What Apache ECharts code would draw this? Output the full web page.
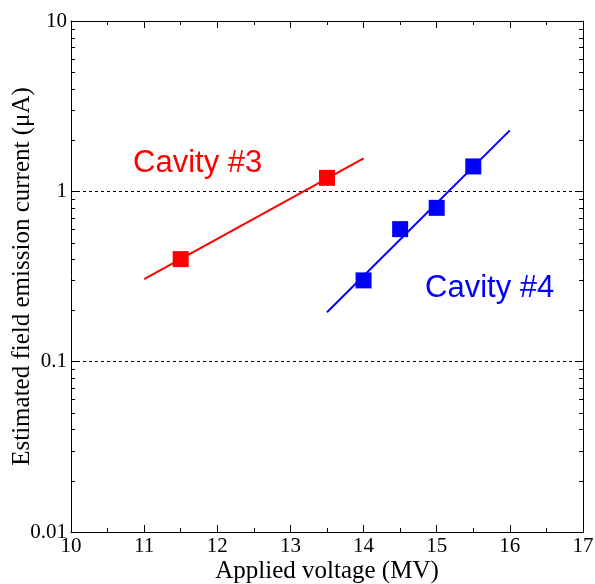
<!DOCTYPE html>
<html><head><meta charset="utf-8">
<script src="https://cdn.jsdelivr.net/npm/echarts@6/dist/echarts.min.js"></script>
<style>html,body{margin:0;padding:0;background:#fff}#c{width:595px;height:584px}</style>
</head><body><div id="c"></div>
<script>
// Data
var cav3X = [11.5, 13.5];
var cav3Y = [0.4, 1.2];
var cav3FitX = [11, 14];
var cav3FitY = [0.305, 1.56];
var cav4X = [14, 14.5, 15, 15.5];
var cav4Y = [0.3, 0.6, 0.8, 1.4];
var cav4FitX = [13.5, 16];
var cav4FitY = [0.195, 2.28];
var yMinorTicks = [];
[0.01, 0.1, 1].forEach(function(d){ for (var k=2;k<=9;k++) yMinorTicks.push(+(d*k).toPrecision(2)); });
var yTickLabels = {0.01:'0.01', 0.1:'0.1', 1:'1', 10:'10'};

function pairs(xs, ys){ return xs.map(function(x,i){return [x, ys[i]];}); }

var serif = '"Liberation Serif","Times New Roman",serif';
var chart = echarts.init(document.getElementById('c'));
var axisLine = {show:true, lineStyle:{color:'#000', width:1}};
chart.setOption({
  animation:false,
  grid:{left:71, right:12, top:21, bottom:52, containLabel:false, outerBoundsMode:'none'},
  xAxis:[{
    type:'value', min:10, max:17, interval:1, position:'bottom',
    axisLine:axisLine,
    axisTick:{show:true, inside:true, length:7, lineStyle:{color:'#000'}},
    minorTick:{show:true, splitNumber:2, length:4, lineStyle:{color:'#000'}},
    axisLabel:{color:'#000', fontFamily:serif, fontSize:21, margin:4},
    splitLine:{show:false},
    name:'Applied voltage (MV)', nameLocation:'middle', nameGap:27, nameMoveOverlap:false,
    nameTextStyle:{color:'#000', fontFamily:serif, fontSize:25}
  },{
    type:'value', min:10, max:17, interval:1, position:'top',
    axisLine:axisLine,
    axisTick:{show:true, inside:true, length:7, lineStyle:{color:'#000'}},
    minorTick:{show:true, splitNumber:2, length:4, lineStyle:{color:'#000'}},
    axisLabel:{show:false}, splitLine:{show:false}
  }],
  yAxis:[{
    type:'log', logBase:10, min:0.01, max:10, position:'left',
    axisLine:axisLine,
    axisTick:{show:true, inside:true, length:7, lineStyle:{color:'#000'}},
    axisLabel:{color:'#000', fontFamily:serif, fontSize:21, margin:4,
      formatter:function(v){ var k = +(+v).toPrecision(2); return yTickLabels[k] || ''; }},
    splitLine:{show:true, lineStyle:{color:'#000', type:[3,3], width:1}},
    name:'Estimated field emission current (\u03bcA)', nameLocation:'middle', nameGap:36, nameRotate:90,
    nameMoveOverlap:false,
    nameTextStyle:{color:'#000', fontFamily:serif, fontSize:25}
  },{
    type:'log', logBase:10, min:0.01, max:10, position:'right',
    axisLine:axisLine,
    axisTick:{show:true, inside:true, length:7, lineStyle:{color:'#000'}},
    axisLabel:{show:false}, splitLine:{show:false}
  }],
  series:[
    {type:'custom', xAxisIndex:0, yAxisIndex:0, silent:true, clip:false, z:5,
     data: yMinorTicks.map(function(v){return [10, v];}),
     renderItem:function(params, api){
       var cs = params.coordSys;
       var p = api.coord([api.value(0), api.value(1)]);
       var y = Math.round(p[1]) + 0.5;
       return {type:'group', children:[
         {type:'line', shape:{x1:cs.x, y1:y, x2:cs.x+4, y2:y}, style:{stroke:'#000', lineWidth:1}},
         {type:'line', shape:{x1:cs.x+cs.width-4, y1:y, x2:cs.x+cs.width, y2:y}, style:{stroke:'#000', lineWidth:1}}
       ]};
     }},
    {type:'line', data:pairs(cav3FitX, cav3FitY), showSymbol:false, symbol:'none',
     lineStyle:{color:'#ff0000', width:2}, z:3},
    {type:'scatter', data:pairs(cav3X, cav3Y), symbol:'rect', symbolSize:16,
     itemStyle:{color:'#ff0000', opacity:1}, z:4},
    {type:'line', data:pairs(cav4FitX, cav4FitY), showSymbol:false, symbol:'none',
     lineStyle:{color:'#0000ff', width:2}, z:3},
    {type:'scatter', data:pairs(cav4X, cav4Y), symbol:'rect', symbolSize:16,
     itemStyle:{color:'#0000ff', opacity:1}, z:4}
  ],
  graphic:[
    {type:'text', left:133, top:148, style:{text:'Cavity #3', fill:'#ff0000', fontFamily:'"Liberation Sans",Arial,sans-serif', fontSize:31}},
    {type:'text', left:425, top:273, style:{text:'Cavity #4', fill:'#0000ff', fontFamily:'"Liberation Sans",Arial,sans-serif', fontSize:31}}
  ]
});
</script></body></html>
